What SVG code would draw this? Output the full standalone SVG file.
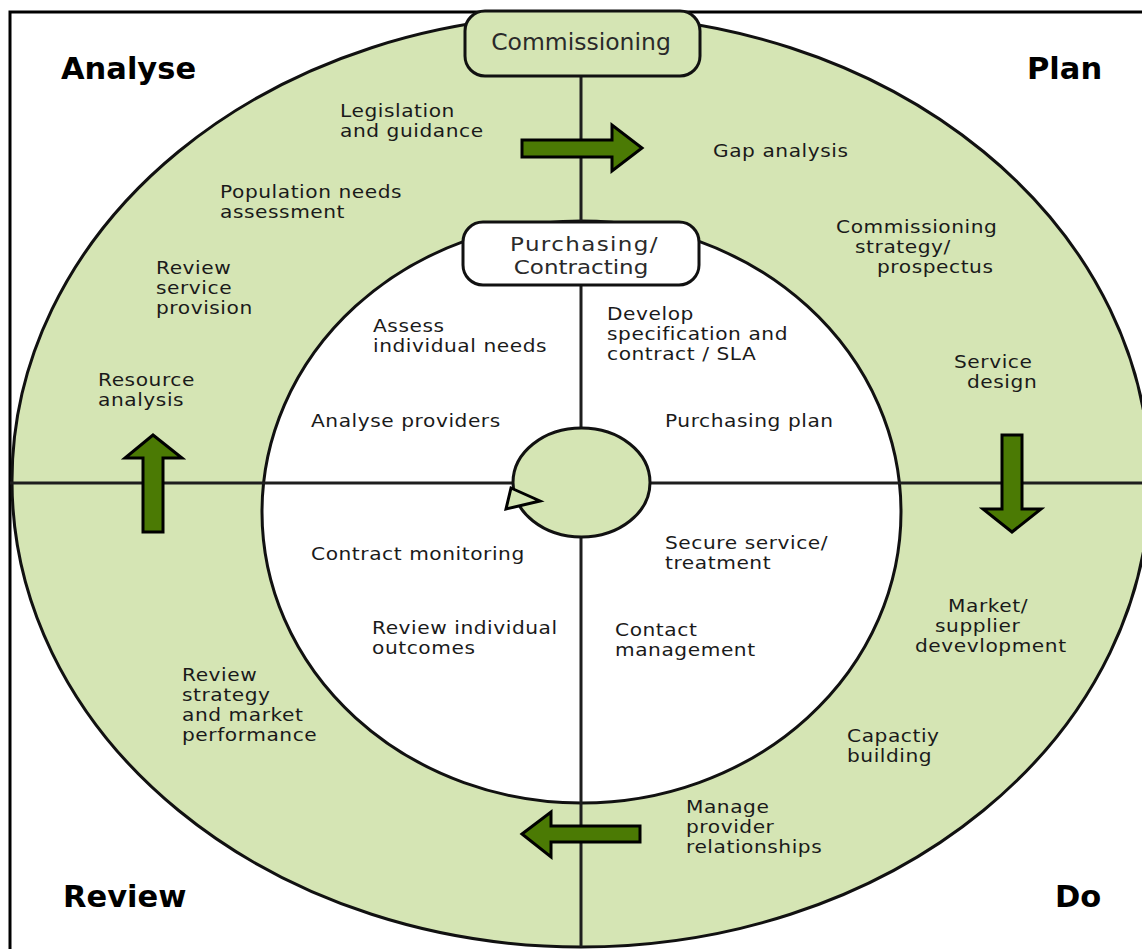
<svg xmlns="http://www.w3.org/2000/svg" width="1142" height="949" viewBox="0 0 1142 949">
<style>
.lbl{font-family:"DejaVu Sans","Liberation Sans",sans-serif;font-size:18px;letter-spacing:0.5px;fill:#1a1a1a}
.hdr{font-family:"DejaVu Sans","Liberation Sans",sans-serif;font-size:30.5px;font-weight:bold;fill:#000}
.box{font-family:"DejaVu Sans","Liberation Sans",sans-serif;font-size:23.5px;fill:#2a2a2a;text-anchor:middle}
.box2{font-family:"DejaVu Sans","Liberation Sans",sans-serif;font-size:20px;fill:#2a2a2a;text-anchor:middle}
.arrow{fill:#4b7a04;stroke:#000;stroke-width:3;stroke-linejoin:miter}
.line{stroke:#1e1e1e;stroke-width:3;fill:none}
</style>
<rect width="1142" height="949" fill="#fff"/>
<g id="frame">
<path d="M10 949 V12 H1142" fill="none" stroke="#000" stroke-width="3"/>
</g>
<g id="outer-ring">
<ellipse cx="581" cy="481" rx="569" ry="466" fill="#d5e5b4" stroke="#111" stroke-width="3"/>
</g>
<g id="inner-ring">
<ellipse cx="581.5" cy="512" rx="319.5" ry="291" fill="#fff" stroke="#111" stroke-width="3"/>
</g>
<g id="connectors">
<line class="line" x1="581" y1="70" x2="581" y2="947"/>
<line class="line" x1="10" y1="483" x2="1142" y2="483"/>
</g>
<g id="centre">
<ellipse cx="581.5" cy="482.5" rx="68.5" ry="54.5" fill="#d5e5b4" stroke="#111" stroke-width="3"/>
<polygon points="511,488 540,501 506,509" fill="#d5e5b4" stroke="#000" stroke-width="3" stroke-linejoin="miter"/>
</g>
<g id="commissioning">
<rect x="465" y="11" width="235" height="65" rx="20" fill="#d5e5b4" stroke="#111" stroke-width="3"/>
<text class="box" x="581" y="50">Commissioning</text>
</g>
<g id="purchasing">
<rect x="463" y="222" width="236" height="63" rx="20" fill="#fff" stroke="#111" stroke-width="3"/>
<text class="box2" transform="translate(581,251) scale(1.15,1)"><tspan x="3" letter-spacing="1.2">Purchasing/</tspan><tspan x="0" dy="23">Contracting</tspan></text>
</g>
<g id="arrows">
<polygon class="arrow" points="522,140 612,140 612,125 642,148 612,171 612,157 522,157"/>
<polygon class="arrow" points="153,435 182,458 163,458 163,532 143,532 143,458 125,458"/>
<polygon class="arrow" points="1002,435 1022,435 1022,509 1041,509 1012,532 983,509 1002,509"/>
<polygon class="arrow" points="522,834 551,812 551,826 640,826 640,842 551,842 551,857"/>
</g>
<g id="headers">
<text class="hdr" x="61" y="79">Analyse</text>
<text class="hdr" x="1027" y="79">Plan</text>
<text class="hdr" x="63" y="907">Review</text>
<text class="hdr" x="1055" y="907">Do</text>
</g>
<g id="analyse-items">
<text class="lbl" transform="translate(340,117) scale(1.12,1)"><tspan x="0">Legislation</tspan><tspan x="0" dy="20">and guidance</tspan></text>
<text class="lbl" transform="translate(220,198) scale(1.12,1)"><tspan x="0">Population needs</tspan><tspan x="0" dy="20">assessment</tspan></text>
<text class="lbl" transform="translate(156,274) scale(1.12,1)"><tspan x="0">Review</tspan><tspan x="0" dy="20">service</tspan><tspan x="0" dy="20">provision</tspan></text>
<text class="lbl" transform="translate(98,386) scale(1.12,1)"><tspan x="0">Resource</tspan><tspan x="0" dy="20">analysis</tspan></text>
</g>
<g id="plan-items">
<text class="lbl" transform="translate(713,157) scale(1.12,1)">Gap analysis</text>
<text class="lbl" transform="translate(836,233) scale(1.12,1)"><tspan x="0">Commissioning</tspan><tspan x="17" dy="20">strategy/</tspan><tspan x="36.6" dy="20">prospectus</tspan></text>
<text class="lbl" transform="translate(954,368) scale(1.12,1)"><tspan x="0">Service</tspan><tspan x="11.6" dy="20">design</tspan></text>
</g>
<g id="do-items">
<text class="lbl" transform="translate(915,612) scale(1.12,1)"><tspan x="29.5">Market/</tspan><tspan x="17.9" dy="20">supplier</tspan><tspan x="0" dy="20">devevlopment</tspan></text>
<text class="lbl" transform="translate(847,742) scale(1.12,1)"><tspan x="0">Capactiy</tspan><tspan x="0" dy="20">building</tspan></text>
<text class="lbl" transform="translate(686,813) scale(1.12,1)"><tspan x="0">Manage</tspan><tspan x="0" dy="20">provider</tspan><tspan x="0" dy="20">relationships</tspan></text>
</g>
<g id="review-items">
<text class="lbl" transform="translate(182,681) scale(1.12,1)"><tspan x="0">Review</tspan><tspan x="0" dy="20">strategy</tspan><tspan x="0" dy="20">and market</tspan><tspan x="0" dy="20">performance</tspan></text>
</g>
<g id="inner-items">
<text class="lbl" transform="translate(373,332) scale(1.12,1)"><tspan x="0">Assess</tspan><tspan x="0" dy="20">individual needs</tspan></text>
<text class="lbl" transform="translate(311,427) scale(1.12,1)">Analyse providers</text>
<text class="lbl" transform="translate(607,320) scale(1.12,1)"><tspan x="0">Develop</tspan><tspan x="0" dy="20">specification and</tspan><tspan x="0" dy="20">contract / SLA</tspan></text>
<text class="lbl" transform="translate(665,427) scale(1.12,1)">Purchasing plan</text>
<text class="lbl" transform="translate(311,560) scale(1.12,1)">Contract monitoring</text>
<text class="lbl" transform="translate(372,634) scale(1.12,1)"><tspan x="0">Review individual</tspan><tspan x="0" dy="20">outcomes</tspan></text>
<text class="lbl" transform="translate(665,549) scale(1.12,1)"><tspan x="0">Secure service/</tspan><tspan x="0" dy="20">treatment</tspan></text>
<text class="lbl" transform="translate(615,636) scale(1.12,1)"><tspan x="0">Contact</tspan><tspan x="0" dy="20">management</tspan></text>
</g>
</svg>
